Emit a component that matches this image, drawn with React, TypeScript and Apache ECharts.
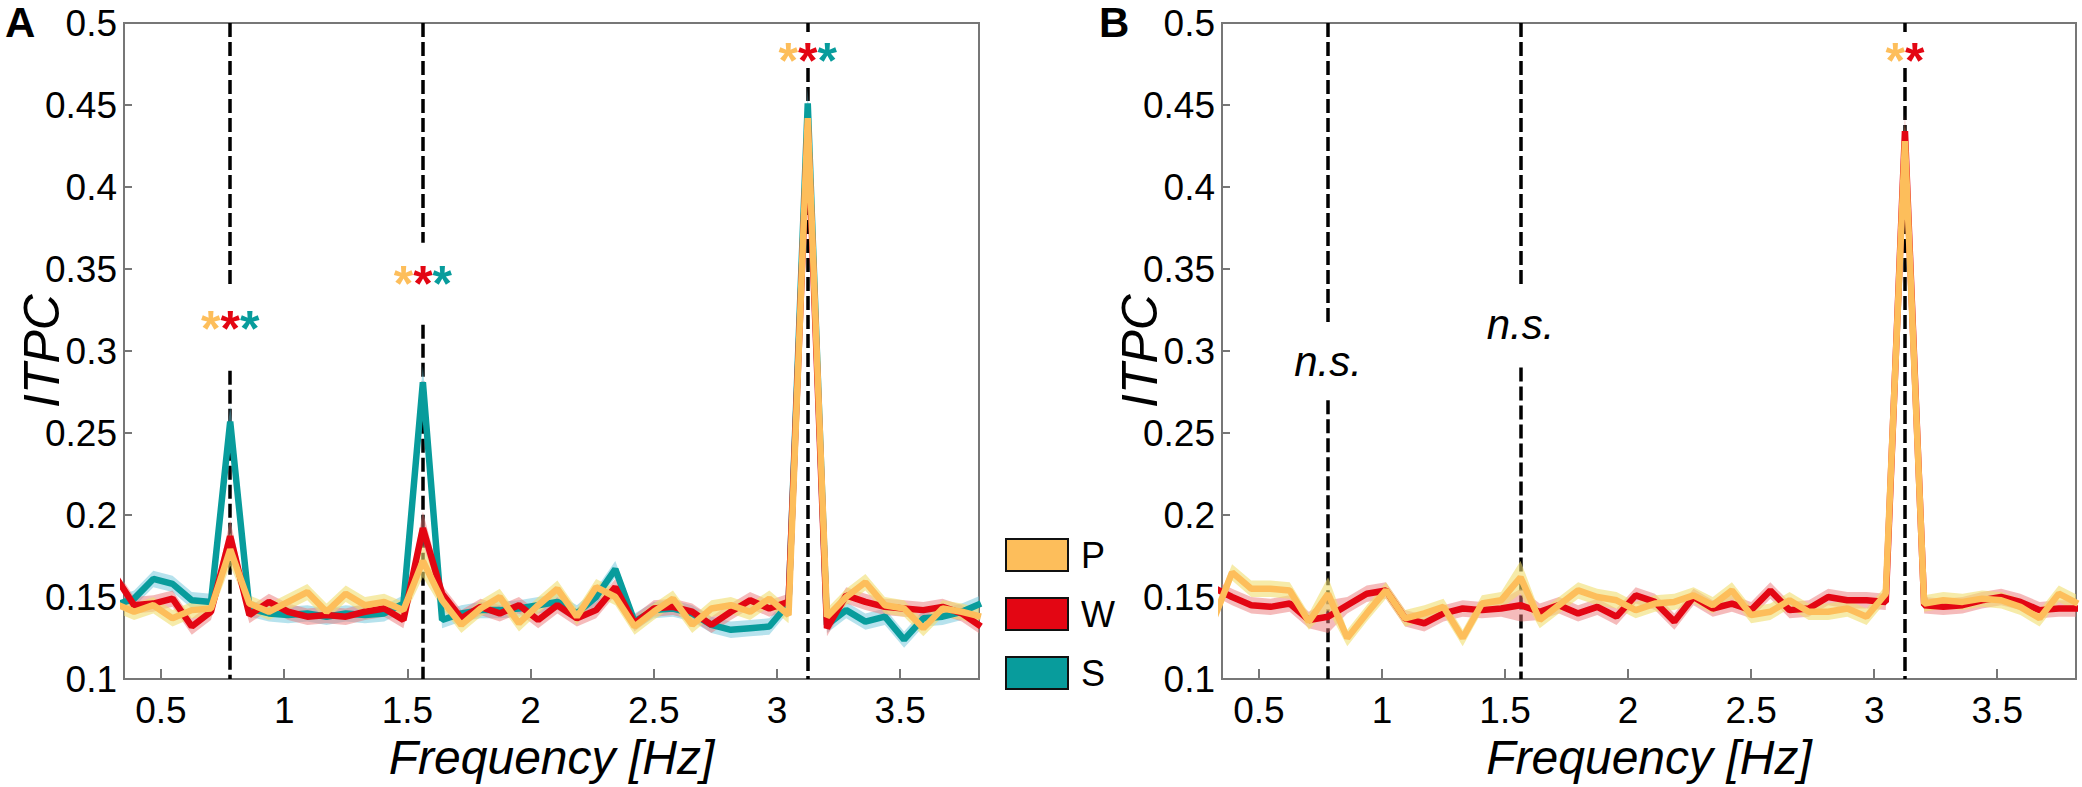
import React, { useEffect, useRef } from "react";
import * as echarts from "echarts";

// ---------- data ----------
const FREQS = [
  0.313, 0.391, 0.469, 0.547, 0.625, 0.703, 0.781, 0.859, 0.938, 1.016,
  1.094, 1.172, 1.25, 1.328, 1.406, 1.484, 1.563, 1.641, 1.719, 1.797,
  1.875, 1.953, 2.031, 2.109, 2.188, 2.266, 2.344, 2.422, 2.5, 2.578,
  2.656, 2.734, 2.813, 2.891, 2.969, 3.047, 3.125, 3.203, 3.281, 3.359,
  3.438, 3.516, 3.594, 3.672, 3.75, 3.828,
];

// Panel A
const A_P = [
  0.146, 0.141, 0.145, 0.137, 0.142, 0.143, 0.179, 0.146, 0.141, 0.147,
  0.153, 0.141, 0.152, 0.145, 0.147, 0.142, 0.172, 0.148, 0.133, 0.143,
  0.15, 0.134, 0.145, 0.155, 0.138, 0.156, 0.15, 0.132, 0.141, 0.149,
  0.133, 0.143, 0.145, 0.141, 0.149, 0.139, 0.442, 0.138, 0.15, 0.159,
  0.145, 0.143, 0.131, 0.143, 0.141, 0.138,
];
const A_W = [
  0.163, 0.145, 0.146, 0.149, 0.132, 0.141, 0.187, 0.139, 0.147, 0.141,
  0.138, 0.139, 0.138, 0.141, 0.143, 0.136, 0.192, 0.152, 0.137, 0.144,
  0.14, 0.145, 0.136, 0.145, 0.137, 0.142, 0.156, 0.134, 0.143, 0.144,
  0.141, 0.133, 0.141, 0.148, 0.143, 0.147, 0.438, 0.131, 0.151, 0.147,
  0.144, 0.143, 0.142, 0.144, 0.14, 0.132,
];
const A_S = [
  0.145, 0.149, 0.161, 0.158, 0.148, 0.147, 0.257, 0.143, 0.14, 0.139,
  0.14, 0.138, 0.14, 0.139, 0.14, 0.146, 0.281, 0.136, 0.14, 0.142,
  0.142, 0.143, 0.145, 0.147, 0.14, 0.15, 0.167, 0.135, 0.142, 0.143,
  0.14, 0.133, 0.13, 0.131, 0.132, 0.146, 0.451, 0.133, 0.142, 0.135,
  0.138, 0.124, 0.137, 0.138, 0.141, 0.146,
];

// Panel B
const B_P = [
  0.135, 0.165, 0.155, 0.155, 0.154, 0.135, 0.152, 0.125, 0.14, 0.154,
  0.137, 0.14, 0.144, 0.125, 0.146, 0.148, 0.162, 0.136, 0.145, 0.154,
  0.15, 0.148, 0.142, 0.146, 0.147, 0.151, 0.145, 0.154, 0.139, 0.141,
  0.148, 0.141, 0.141, 0.143, 0.138, 0.152, 0.428, 0.146, 0.148, 0.147,
  0.149, 0.148, 0.144, 0.137, 0.152, 0.146,
];
const B_W = [
  0.156, 0.15, 0.145, 0.144, 0.146, 0.136, 0.138, 0.145, 0.152, 0.154,
  0.137, 0.134, 0.14, 0.143, 0.142, 0.143, 0.145, 0.141, 0.145, 0.14,
  0.144, 0.138, 0.151, 0.147, 0.135, 0.15, 0.143, 0.146, 0.142, 0.154,
  0.142, 0.143, 0.15, 0.148, 0.148, 0.147, 0.434, 0.145, 0.144, 0.145,
  0.148, 0.15, 0.147, 0.142, 0.143, 0.143,
];

// Error band half-widths (estimated SEM)
const TARGET_FREQS = [0.781, 1.563, 3.125];
const SEM_BASE = 0.005;
const SEM_PEAK = 0.01;

// Axis ticks
const X_TICKS = [0.5, 1, 1.5, 2, 2.5, 3, 3.5];
const X_MIN = 0.35;
const X_MAX = 3.82;
const Y_MIN = 0.1;
const Y_MAX = 0.5;
const Y_STEP = 0.05;

// Dashed reference lines: [freq, yFrom, yTo]
const DASH_A = [
  [0.781, 0.5, 0.339],
  [0.781, 0.288, 0.1],
  [1.563, 0.5, 0.366],
  [1.563, 0.316, 0.1],
  [3.125, 0.5, 0.4945],
  [3.125, 0.4726, 0.1],
];
const DASH_B = [
  [0.781, 0.5, 0.317],
  [0.781, 0.27, 0.1],
  [1.563, 0.5, 0.34],
  [1.563, 0.29, 0.1],
  [3.125, 0.5, 0.4945],
  [3.125, 0.4726, 0.1],
];

// Annotations
const STARS_A = [
  [0.781, 0.32],
  [1.563, 0.3476],
  [3.125, 0.4835],
];
const STARS_B = [[3.125, 0.4835]];
const NS_B = [
  [0.781, 0.2915],
  [1.563, 0.3146],
];

// ---------- style ----------
const FONT = "'Liberation Sans', Arial, Helvetica, sans-serif";
const C_P = "#FDBE5B";
const C_W = "#E30613";
const C_S = "#089C9C";
const BAND_P = "rgba(240, 222, 112, 0.6)";
const BAND_W = "rgba(236, 120, 120, 0.5)";
const BAND_S = "rgba(110, 198, 220, 0.5)";
const AXIS_C = "#777777";
const TEXT_C = "#000000";

const GRID_LEFT = [124, 1222];
const GRID_TOP = 23;
const GRID_H = 656;

function semAt(i: number): number {
  return TARGET_FREQS.indexOf(FREQS[i]) >= 0 ? SEM_PEAK : SEM_BASE;
}

function bandSeries(key: string, vals: number[], color: string, gi: number) {
  return {
    type: "custom",
    name: "band-" + key + "-" + gi,
    xAxisIndex: gi,
    yAxisIndex: gi,
    silent: true,
    clip: true,
    z: 2,
    data: vals.map((v, i) => [FREQS[i], v]),
    renderItem: (params: any, api: any) => {
      if (params.dataIndex !== 0) return null;
      const upper = vals.map((v, i) => api.coord([FREQS[i], v + semAt(i)]));
      const lower = vals.map((v, i) => api.coord([FREQS[i], v - semAt(i)])).reverse();
      return {
        type: "polygon",
        shape: { points: upper.concat(lower) },
        style: { fill: color, stroke: null },
      };
    },
  };
}

function lineSeries(name: string, vals: number[], color: string, gi: number, z: number) {
  return {
    type: "line",
    name,
    xAxisIndex: gi,
    yAxisIndex: gi,
    data: vals.map((v, i) => [FREQS[i], v]),
    symbol: "none",
    silent: true,
    color,
    z,
    lineStyle: { color, width: 6.5 },
  };
}

function dashSeries(segs: number[][], gi: number) {
  return {
    type: "line",
    name: "dash-" + gi,
    xAxisIndex: gi,
    yAxisIndex: gi,
    data: [],
    silent: true,
    z: 1,
    markLine: {
      silent: true,
      z: 1,
      animation: false,
      symbol: ["none", "none"],
      label: { show: false },
      emphasis: { disabled: true },
      lineStyle: { color: "#000000", width: 3.5, type: [14, 5], cap: "butt" },
      data: segs.map(([x, y1, y2]) => [{ coord: [x, y1] }, { coord: [x, y2] }]),
    },
  };
}

const starRich = {
  p: { color: C_P, fontSize: 50, fontWeight: "bold", fontFamily: FONT, textBorderWidth: 0 },
  w: { color: C_W, fontSize: 50, fontWeight: "bold", fontFamily: FONT, textBorderWidth: 0 },
  s: { color: C_S, fontSize: 50, fontWeight: "bold", fontFamily: FONT, textBorderWidth: 0 },
};

function textSeries(points: number[][], gi: number, formatter: string, extra: any) {
  return {
    type: "scatter",
    name: "txt-" + gi + "-" + formatter,
    xAxisIndex: gi,
    yAxisIndex: gi,
    data: points.map((p) => [p[0], p[1]]),
    symbolSize: 1,
    silent: true,
    z: 6,
    itemStyle: { color: "rgba(0,0,0,0)" },
    label: {
      show: true,
      position: "inside",
      formatter,
      opacity: 1,
      textBorderWidth: 0,
      ...extra,
    },
  };
}

function xAxisDef(gi: number) {
  return {
    type: "value",
    gridIndex: gi,
    min: X_MIN,
    max: X_MAX,
    name: "Frequency [Hz]",
    nameLocation: "middle",
    nameGap: 50,
    nameTextStyle: { fontSize: 48, fontStyle: "italic", fontFamily: FONT, color: TEXT_C },
    axisLine: { show: true, onZero: false, lineStyle: { color: AXIS_C, width: 2 } },
    axisTick: { show: true, inside: true, length: 10, customValues: X_TICKS, lineStyle: { color: AXIS_C, width: 2 } },
    axisLabel: { show: true, customValues: X_TICKS, margin: 13, fontSize: 37, fontFamily: FONT, color: TEXT_C },
    splitLine: { show: false },
  };
}

function yAxisDef(gi: number) {
  return {
    type: "value",
    gridIndex: gi,
    min: Y_MIN,
    max: Y_MAX,
    interval: Y_STEP,
    axisLine: { show: true, onZero: false, lineStyle: { color: AXIS_C, width: 2 } },
    axisTick: { show: true, inside: true, length: 8, lineStyle: { color: AXIS_C, width: 2 } },
    axisLabel: { show: true, margin: 7, fontSize: 37, fontFamily: FONT, color: TEXT_C },
    splitLine: { show: false },
  };
}

function yTitle(gi: number) {
  return {
    type: "text",
    x: GRID_LEFT[gi] - 82,
    y: GRID_TOP + GRID_H / 2,
    rotation: Math.PI / 2,
    silent: true,
    style: {
      text: "ITPC",
      font: `italic 50px ${FONT}`,
      fill: TEXT_C,
      textAlign: "center",
      textVerticalAlign: "middle",
    },
  };
}

export default function App() {
  const ref = useRef<HTMLDivElement>(null);

  useEffect(() => {
    if (!ref.current) return;
    const chart = echarts.init(ref.current, null, { renderer: "svg" });

    const series: any[] = [
      dashSeries(DASH_A, 0),
      dashSeries(DASH_B, 1),
      bandSeries("S", A_S, BAND_S, 0),
      bandSeries("W", A_W, BAND_W, 0),
      bandSeries("P", A_P, BAND_P, 0),
      bandSeries("W", B_W, BAND_W, 1),
      bandSeries("P", B_P, BAND_P, 1),
      lineSeries("S", A_S, C_S, 0, 3),
      lineSeries("W", A_W, C_W, 0, 4),
      lineSeries("P", A_P, C_P, 0, 5),
      lineSeries("W", B_W, C_W, 1, 4),
      lineSeries("P", B_P, C_P, 1, 5),
      textSeries(STARS_A, 0, "{p|*}{w|*}{s|*}", { rich: starRich, offset: [0, 11] }),
      textSeries(STARS_B, 1, "{p|*}{w|*}", { rich: starRich, offset: [0, 11] }),
      textSeries(NS_B, 1, "n.s.", {
        fontSize: 42,
        fontStyle: "italic",
        fontFamily: FONT,
        color: TEXT_C,
        offset: [0, -3],
      }),
    ];

    chart.setOption({
      animation: false,
      backgroundColor: "#ffffff",
      grid: [
        { left: GRID_LEFT[0], top: GRID_TOP, width: 855, height: GRID_H, show: true, borderColor: AXIS_C, borderWidth: 2, backgroundColor: "transparent" },
        { left: GRID_LEFT[1], top: GRID_TOP, width: 854, height: GRID_H, show: true, borderColor: AXIS_C, borderWidth: 2, backgroundColor: "transparent" },
      ],
      xAxis: [xAxisDef(0), xAxisDef(1)],
      yAxis: [yAxisDef(0), yAxisDef(1)],
      legend: {
        data: ["P", "W", "S"],
        orient: "vertical",
        left: 1005,
        top: 537,
        padding: 0,
        itemGap: 23,
        itemWidth: 62,
        itemHeight: 32,
        icon: "rect",
        selectedMode: false,
        itemStyle: { borderColor: "#111111", borderWidth: 2 },
        textStyle: { fontSize: 36, color: TEXT_C, fontFamily: FONT, padding: [0, 0, 0, 8] },
      },
      graphic: [
        { type: "text", left: 5, top: 1, style: { text: "A", font: `bold 42px ${FONT}`, fill: "#000" } },
        { type: "text", left: 1099, top: 1, style: { text: "B", font: `bold 42px ${FONT}`, fill: "#000" } },
        yTitle(0),
        yTitle(1),
      ],
      series,
    });

    return () => chart.dispose();
  }, []);

  return (
    <div
      ref={ref}
      style={{ position: "absolute", left: 0, top: 0, width: 2082, height: 787, background: "#fff" }}
    />
  );
}
